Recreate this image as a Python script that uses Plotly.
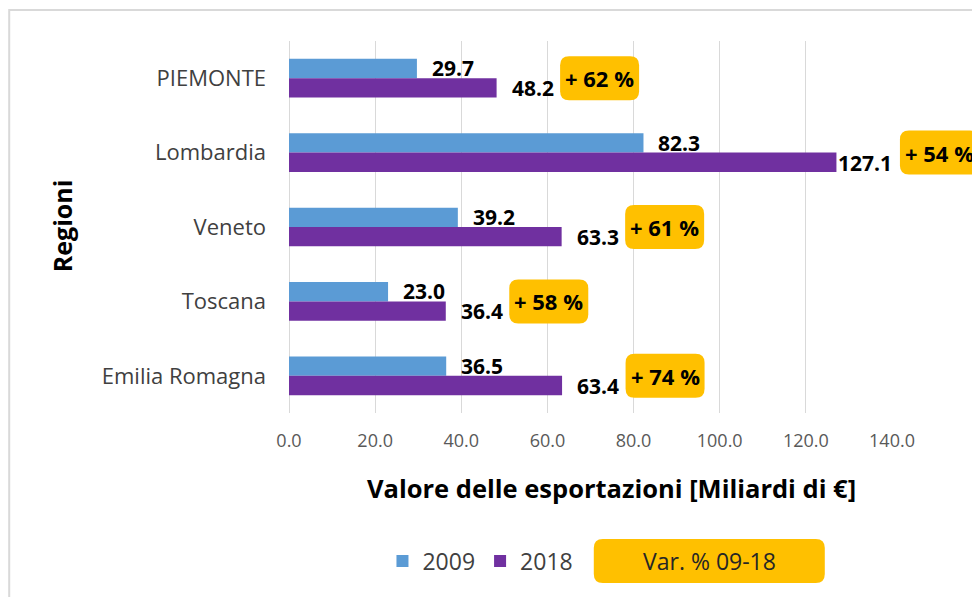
import plotly.graph_objects as go

regions = ["PIEMONTE", "Lombardia", "Veneto", "Toscana", "Emilia Romagna"]
values_2009 = [29.7, 82.3, 39.2, 23.0, 36.5]
values_2018 = [48.2, 127.1, 63.3, 36.4, 63.4]
var_pct = ["+ 62 %", "+ 54 %", "+ 61 %", "+ 58 %", "+ 74 %"]
x_ticks = [0, 20, 40, 60, 80, 100, 120, 140]
X_RANGE = [0, 140]

BLUE = "#5B9BD5"
PURPLE = "#7030A0"
YELLOW = "#FFC000"
FONT = "Open Sans"

fig = go.Figure()
fig.add_trace(go.Bar(y=regions, x=values_2009, name="2009", orientation="h",
                     marker=dict(color=BLUE, line=dict(width=0))))
fig.add_trace(go.Bar(y=regions, x=values_2018, name="2018", orientation="h",
                     marker=dict(color=PURPLE, line=dict(width=0))))


def rounded_path(cx, w, h, r):
    x0, x1, y0, y1 = cx - w / 2, cx + w / 2, -h / 2, h / 2
    return (f"M {x0 + r},{y0} L {x1 - r},{y0} Q {x1},{y0} {x1},{y0 + r} "
            f"L {x1},{y1 - r} Q {x1},{y1} {x1 - r},{y1} L {x0 + r},{y1} "
            f"Q {x0},{y1} {x0},{y1 - r} L {x0},{y0 + r} Q {x0},{y0} {x0 + r},{y0} Z")


annotations = []
shapes = []
BAR_OFF = 10   # px offset of each bar from category centre
BOX_SHIFT = 103
for i, reg in enumerate(regions):
    v1, v2 = values_2009[i], values_2018[i]
    annotations.append(dict(x=v1, y=reg, xref="x", yref="y", text=f"<b>{v1:.1f}</b>",
                            showarrow=False, xanchor="left", yanchor="middle", xshift=13, yshift=BAR_OFF,
                            font=dict(family=FONT, size=21, color="#000000")))
    gap = 0 if v2 > 120 else 13
    annotations.append(dict(x=v2, y=reg, xref="x", yref="y", text=f"<b>{v2:.1f}</b>",
                            showarrow=False, xanchor="left", yanchor="middle", xshift=gap, yshift=-BAR_OFF,
                            font=dict(family=FONT, size=21, color="#000000")))
    # box anchored at the bar end (as plot fraction so it is not clipped by the plot area)
    frac = (v2 - X_RANGE[0]) / (X_RANGE[1] - X_RANGE[0])
    shapes.append(dict(type="path", xref="paper", yref="y", xsizemode="pixel", ysizemode="pixel",
                       xanchor=frac, yanchor=i, path=rounded_path(BOX_SHIFT, 79, 44, 9),
                       fillcolor=YELLOW, line=dict(width=0), layer="above"))
    annotations.append(dict(x=v2, y=reg, xref="x", yref="y", text=f"<b>{var_pct[i]}</b>",
                            showarrow=False, xanchor="center", yanchor="middle", xshift=BOX_SHIFT,
                            font=dict(family=FONT, size=22, color="#000000")))

# legend extra box
shapes.append(dict(type="path", xref="paper", yref="paper", xsizemode="pixel", ysizemode="pixel",
                   xanchor=0.697, yanchor=-0.398, path=rounded_path(0, 231, 44, 9),
                   fillcolor=YELLOW, line=dict(width=0)))
annotations.append(dict(x=0.697, y=-0.398, xref="paper", yref="paper", text="Var. % 09-18",
                        showarrow=False, xanchor="center", yanchor="middle",
                        font=dict(family=FONT, size=23, color="#262626")))

# axis titles
annotations.append(dict(x=0.535, y=-0.2016, xref="paper", yref="paper",
                        text="<b>Valore delle esportazioni [Miliardi di €]</b>", showarrow=False,
                        xanchor="center", yanchor="middle",
                        font=dict(family=FONT, size=25.5, color="#000000")))
annotations.append(dict(x=-0.376, y=0.503, xref="paper", yref="paper", text="<b>Regioni</b>",
                        textangle=-90, showarrow=False, xanchor="center", yanchor="middle",
                        font=dict(family=FONT, size=25, color="#000000")))

# chart border
shapes.append(dict(type="rect", xref="paper", yref="paper", x0=-0.464, x1=1.2, y0=-0.55, y1=1.0833,
                   line=dict(color="#D9D9D9", width=2), fillcolor="rgba(0,0,0,0)", layer="below"))

fig.update_layout(
    width=972, height=589,
    margin=dict(l=281, r=88, t=33, b=184, autoexpand=False),
    paper_bgcolor="white", plot_bgcolor="white",
    barmode="group", bargap=0.48, bargroupgap=0,
    font=dict(family=FONT, color="#404040"),
    showlegend=True,
    legend=dict(orientation="h", x=0.155, y=-0.398, yanchor="middle", xanchor="left",
                font=dict(family=FONT, size=23, color="#404040"), traceorder="normal",
                bgcolor="rgba(0,0,0,0)"),
    annotations=annotations, shapes=shapes,
    xaxis=dict(range=X_RANGE, tickvals=x_ticks, ticktext=[f"{t:.1f}" for t in x_ticks],
               showgrid=True, gridcolor="#D9D9D9", gridwidth=1, zeroline=True,
               zerolinecolor="#D9D9D9", zerolinewidth=1, showline=False,
               tickfont=dict(family=FONT, size=18, color="#595959"), ticklabelstandoff=15,
               fixedrange=True),
    yaxis=dict(categoryorder="array", categoryarray=regions, autorange="reversed",
               showgrid=False, showline=False, zeroline=False,
               tickfont=dict(family=FONT, size=22, color="#404040"), ticklabelstandoff=22,
               fixedrange=True),
)

fig.write_html("out.html")
